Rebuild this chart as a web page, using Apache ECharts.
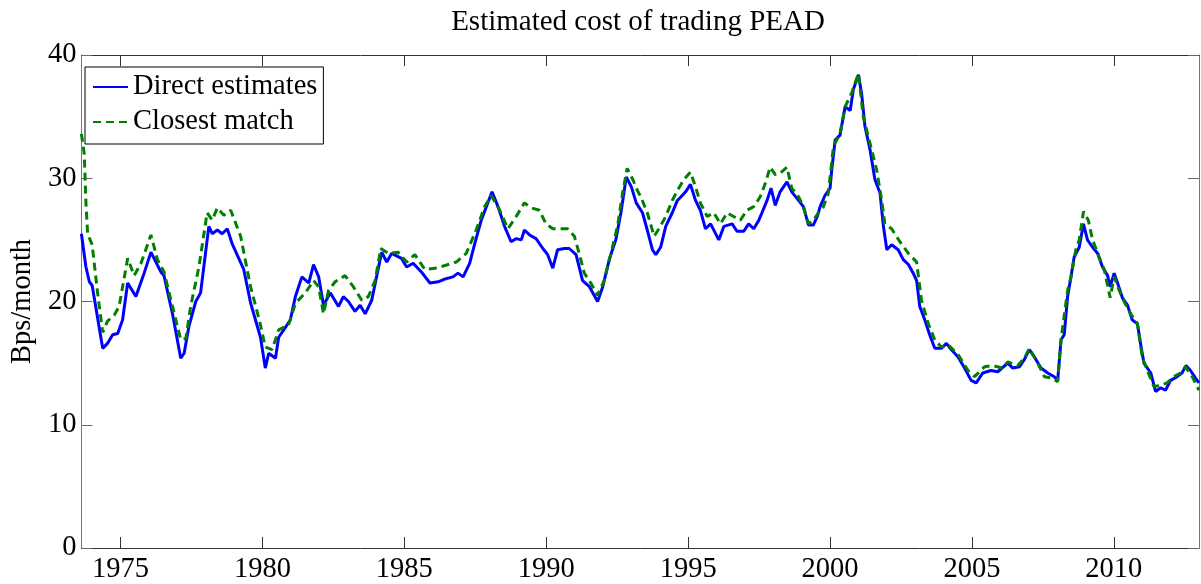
<!DOCTYPE html>
<html>
<head>
<meta charset="utf-8">
<script src="https://cdn.jsdelivr.net/npm/echarts@6/dist/echarts.min.js"></script>
<style>html,body{margin:0;padding:0;background:#fff}#c{width:1201px;height:584px}</style>
</head>
<body>
<div id="c"></div>
<script>
const titleText = 'Estimated cost of trading PEAD';
const yAxisName = 'Bps/month';
const seriesNames = ['Direct estimates', 'Closest match'];
const xTickValues = [1975, 1980, 1985, 1990, 1995, 2000, 2005, 2010];
const yTickValues = [0, 10, 20, 30, 40];

const directDates = [1973.62,1973.78,1973.90,1974.00,1974.37,1974.54,1974.72,1974.90,1975.07,1975.25,1975.54,1975.83,1976.07,1976.42,1976.53,1976.83,1977.12,1977.24,1977.41,1977.65,1977.82,1978.11,1978.23,1978.41,1978.58,1978.76,1978.93,1979.34,1979.58,1979.93,1980.10,1980.22,1980.46,1980.57,1980.75,1980.98,1981.16,1981.39,1981.63,1981.80,1981.98,1982.15,1982.39,1982.68,1982.85,1983.03,1983.26,1983.44,1983.62,1983.85,1984.02,1984.20,1984.38,1984.55,1984.90,1985.08,1985.31,1985.60,1985.90,1986.19,1986.40,1986.71,1986.89,1987.07,1987.30,1987.48,1987.71,1987.89,1988.09,1988.30,1988.53,1988.76,1988.94,1989.12,1989.23,1989.41,1989.64,1989.88,1990.05,1990.23,1990.40,1990.64,1990.81,1991.05,1991.28,1991.52,1991.81,1991.99,1992.22,1992.45,1992.63,1992.82,1993.00,1993.17,1993.39,1993.56,1993.74,1993.86,1994.03,1994.21,1994.44,1994.62,1994.79,1994.91,1995.08,1995.26,1995.43,1995.61,1995.79,1996.08,1996.26,1996.55,1996.72,1996.96,1997.13,1997.31,1997.49,1997.60,1997.78,1997.92,1998.07,1998.24,1998.48,1998.65,1998.89,1999.06,1999.24,1999.41,1999.55,1999.65,1999.82,2000.00,2000.06,2000.18,2000.35,2000.53,2000.71,2000.82,2001.00,2001.11,2001.23,2001.41,2001.58,2001.76,2001.88,2002.00,2002.17,2002.40,2002.58,2002.76,2002.93,2003.05,2003.16,2003.34,2003.51,2003.69,2003.92,2004.10,2004.27,2004.51,2004.74,2004.97,2005.15,2005.38,2005.67,2005.91,2006.26,2006.44,2006.67,2006.85,2007.02,2007.20,2007.43,2007.67,2007.90,2008.02,2008.14,2008.25,2008.37,2008.49,2008.60,2008.78,2008.93,2009.07,2009.25,2009.43,2009.60,2009.78,2009.87,2010.01,2010.13,2010.30,2010.48,2010.65,2010.83,2010.94,2011.06,2011.30,2011.47,2011.65,2011.82,2012.00,2012.23,2012.40,2012.54,2012.70,2012.87,2013.00];
const directValues = [25.5,22.8,21.6,21.3,16.2,16.6,17.3,17.4,18.5,21.5,20.4,22.3,24.0,22.4,22.1,19.0,15.4,15.8,18.0,20.0,20.7,26.1,25.5,25.8,25.5,25.9,24.7,22.6,19.9,17.1,14.6,15.8,15.4,17.1,17.7,18.5,20.4,22.0,21.5,23.0,22.0,19.7,20.7,19.6,20.4,20.0,19.2,19.7,19.0,20.1,22.0,24.0,23.2,23.9,23.5,22.8,23.1,22.4,21.5,21.6,21.8,22.0,22.3,22.0,23.1,24.7,26.6,27.7,28.9,27.7,26.1,24.85,25.1,25.0,25.8,25.4,25.1,24.3,23.8,22.7,24.2,24.3,24.3,23.8,21.7,21.2,20.0,21.2,23.4,25.0,27.2,30.1,29.3,28.0,27.2,25.8,24.2,23.8,24.4,26.1,27.2,28.2,28.6,28.9,29.5,28.2,27.4,25.9,26.3,25.0,26.1,26.3,25.7,25.7,26.3,25.9,26.6,27.2,28.2,29.2,27.8,28.9,29.7,28.9,28.2,27.7,26.2,26.2,26.9,27.7,28.6,29.2,30.7,33.1,33.5,35.8,35.5,37.2,38.4,36.9,34.2,32.3,29.9,28.8,26.1,24.2,24.6,24.2,23.4,23.0,22.3,21.7,19.6,18.5,17.3,16.2,16.2,16.6,16.1,15.5,14.6,13.6,13.4,14.2,14.4,14.3,15.0,14.6,14.7,15.3,16.1,15.5,14.6,14.2,13.9,13.6,16.9,17.3,20.4,22.0,23.6,24.4,26.3,25.0,24.4,23.9,22.8,22.1,21.2,22.3,21.5,20.3,19.7,18.5,18.2,16.6,15.0,14.2,12.7,13.0,12.8,13.6,13.9,14.2,14.8,14.4,13.8,13.4];

const matchDates = [1973.62,1973.72,1973.78,1973.84,1974.00,1974.19,1974.37,1974.54,1974.78,1974.95,1975.25,1975.48,1975.72,1976.07,1976.30,1976.53,1976.83,1977.12,1977.30,1977.47,1977.76,1978.05,1978.23,1978.41,1978.64,1978.88,1979.23,1979.58,1979.90,1980.10,1980.34,1980.57,1980.92,1981.16,1981.51,1981.80,1981.98,1982.15,1982.33,1982.56,1982.91,1983.20,1983.50,1983.73,1983.97,1984.17,1984.43,1984.78,1985.08,1985.37,1985.72,1986.07,1986.40,1986.83,1987.18,1987.53,1987.83,1988.06,1988.36,1988.65,1988.94,1989.23,1989.47,1989.76,1989.99,1990.23,1990.46,1990.75,1990.99,1991.16,1991.34,1991.57,1991.81,1992.04,1992.28,1992.51,1992.69,1992.85,1993.07,1993.21,1993.33,1993.56,1993.80,1993.97,1994.21,1994.44,1994.62,1994.85,1995.08,1995.26,1995.43,1995.67,1995.90,1996.14,1996.37,1996.60,1996.84,1997.07,1997.31,1997.54,1997.72,1997.89,1998.07,1998.24,1998.48,1998.65,1998.89,1999.06,1999.24,1999.41,1999.59,1999.75,1999.94,2000.12,2000.35,2000.53,2000.76,2001.00,2001.17,2001.41,2001.64,2001.82,2001.93,2002.17,2002.46,2002.76,2003.05,2003.22,2003.46,2003.69,2003.92,2004.16,2004.51,2004.86,2005.09,2005.44,2005.73,2006.06,2006.26,2006.61,2006.85,2007.02,2007.32,2007.55,2007.78,2008.02,2008.14,2008.37,2008.49,2008.66,2008.78,2008.93,2009.10,2009.25,2009.48,2009.66,2009.87,2010.01,2010.19,2010.36,2010.59,2010.83,2011.00,2011.18,2011.41,2011.65,2011.88,2012.11,2012.35,2012.52,2012.76,2013.00];
const matchValues = [33.6,32.0,28.0,25.5,24.6,20.7,17.5,18.4,18.9,19.6,23.5,22.1,23.1,25.4,23.4,22.4,19.6,16.9,17.0,19.6,22.8,27.2,26.6,27.6,27.0,27.4,25.3,21.2,18.4,16.3,16.1,17.7,18.1,19.85,20.7,21.7,21.2,19.0,20.9,21.6,22.1,21.2,20.1,20.4,21.7,24.3,23.9,24.0,23.2,23.8,22.6,22.7,22.9,23.2,23.9,25.8,27.7,28.6,27.4,25.9,26.9,28.0,27.6,27.4,26.3,25.9,25.9,25.9,25.3,23.9,22.3,21.5,20.5,21.7,23.9,26.1,28.8,30.8,29.8,29.0,28.5,27.2,25.3,25.9,26.9,28.2,29.0,29.9,30.5,29.3,28.0,26.9,27.2,26.3,27.2,26.9,26.6,27.4,27.7,28.5,29.6,30.9,30.3,30.4,30.9,29.2,28.5,27.7,26.3,26.6,27.2,27.6,28.8,32.6,33.6,35.8,36.9,38.5,35.0,32.8,30.7,28.2,26.3,25.9,24.85,23.9,23.2,20.1,18.2,16.9,16.3,16.5,15.7,14.4,13.9,14.7,14.8,14.6,15.1,14.8,15.4,16.2,15.0,13.9,13.8,13.5,16.9,20.9,22.0,24.2,25.0,27.3,26.6,25.0,23.6,22.6,20.3,22.0,20.9,20.0,19.0,18.2,15.5,14.4,13.1,13.2,13.4,13.9,14.2,14.7,13.9,12.8];

const FONT = 'Liberation Serif';
const X_MIN = 1973.62, X_MAX = 2013.0;

function pairs(xs, ys) { return xs.map((x, i) => [x, ys[i]]); }

const chart = echarts.init(document.getElementById('c'), null, {renderer: 'canvas'});

const tickCommon = {show: true, inside: true, length: 11, lineStyle: {color: '#333', width: 1}};

chart.setOption({
  animation: false,
  backgroundColor: '#fff',
  title: {
    text: titleText,
    left: 638,
    textAlign: 'center',
    top: 8,
    padding: 0,
    textStyle: {fontFamily: FONT, fontSize: 29, fontWeight: 'normal', color: '#000'}
  },
  legend: {
    orient: 'vertical',
    left: 85,
    top: 67,
    padding: [5, 6, 7, 7],
    itemWidth: 35,
    itemHeight: 14,
    itemGap: 5,
    itemStyle: {opacity: 0},
    backgroundColor: '#fff',
    borderColor: '#000',
    borderWidth: 1,
    borderRadius: 0,
    data: seriesNames,
    textStyle: {fontFamily: FONT, fontSize: 28.5, color: '#000', lineHeight: 30, padding: [0, 0, 0, 0]}
  },
  grid: {left: 77, right: 2, top: 55, bottom: 36, containLabel: false},
  xAxis: [{
    type: 'value',
    min: X_MIN,
    max: X_MAX,
    position: 'bottom',
    axisLine: {show: true, onZero: false, lineStyle: {color: '#333', width: 1}},
    axisTick: Object.assign({}, tickCommon, {customValues: xTickValues}),
    axisLabel: {customValues: xTickValues, fontFamily: FONT, fontSize: 28.5, color: '#000', margin: 7, formatter: v => String(Math.round(v))},
    splitLine: {show: false}
  }, {
    type: 'value',
    min: X_MIN,
    max: X_MAX,
    position: 'top',
    axisLine: {show: true, onZero: false, lineStyle: {color: '#333', width: 1}},
    axisTick: Object.assign({}, tickCommon, {customValues: xTickValues}),
    axisLabel: {show: false},
    splitLine: {show: false}
  }],
  yAxis: [{
    type: 'value',
    min: 0,
    max: 40,
    interval: 10,
    position: 'left',
    name: yAxisName,
    nameLocation: 'middle',
    nameGap: 42,
    nameTextStyle: {fontFamily: FONT, fontSize: 28.5, color: '#000'},
    axisLine: {show: true, onZero: false, lineStyle: {color: '#777', width: 1}},
    axisTick: Object.assign({}, tickCommon, {lineStyle: {color: '#666', width: 1}}),
    axisLabel: {fontFamily: FONT, fontSize: 28.5, color: '#000', margin: 5},
    splitLine: {show: false}
  }, {
    type: 'value',
    min: 0,
    max: 40,
    interval: 10,
    position: 'right',
    axisLine: {show: true, onZero: false, lineStyle: {color: '#777', width: 1}},
    axisTick: Object.assign({}, tickCommon, {lineStyle: {color: '#666', width: 1}}),
    axisLabel: {show: false},
    splitLine: {show: false}
  }],
  series: [{
    name: seriesNames[0],
    type: 'line',
    xAxisIndex: 0,
    yAxisIndex: 0,
    data: pairs(directDates, directValues),
    symbol: 'none',
    smooth: false,
    lineStyle: {color: '#0000ff', width: 3},
    itemStyle: {color: '#0000ff'},
    z: 2
  }, {
    name: seriesNames[1],
    type: 'line',
    xAxisIndex: 0,
    yAxisIndex: 0,
    data: pairs(matchDates, matchValues),
    symbol: 'none',
    smooth: false,
    lineStyle: {color: '#008000', width: 3, type: [8, 5]},
    itemStyle: {color: '#008000'},
    z: 3
  }]
});
</script>
</body>
</html>
